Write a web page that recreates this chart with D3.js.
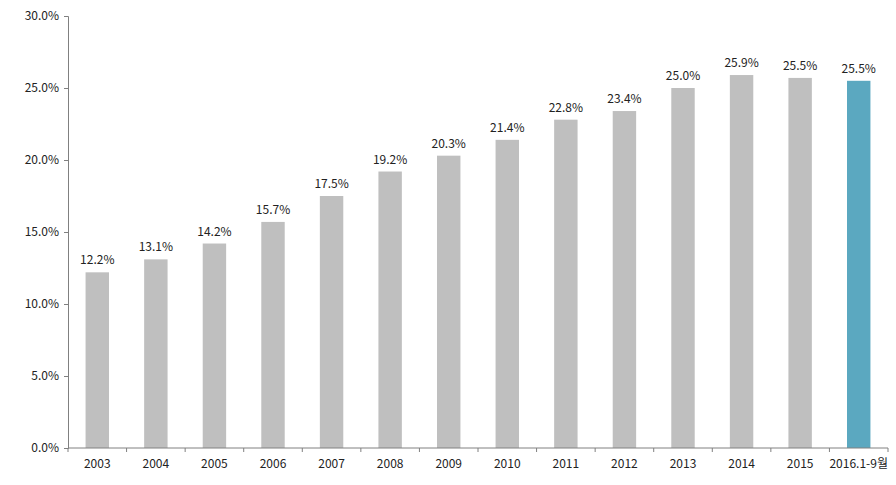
<!DOCTYPE html>
<html>
<head>
<meta charset="utf-8">
<script src="https://cdn.jsdelivr.net/npm/d3@7"></script>
<style>
  html, body { margin: 0; padding: 0; background: #fff; }
  svg { display: block; }
  text { font-family: "Noto Sans CJK KR", "Noto Sans", sans-serif; fill: #222; }
</style>
</head>
<body>
<svg id="chart" width="896" height="485"></svg>
<script>
const categories = ["2003","2004","2005","2006","2007","2008","2009","2010","2011","2012","2013","2014","2015","2016.1-9월"];
const values = [12.2, 13.1, 14.2, 15.7, 17.5, 19.2, 20.3, 21.4, 22.8, 23.4, 25.0, 25.9, 25.7, 25.5];
const valueLabels = ["12.2%","13.1%","14.2%","15.7%","17.5%","19.2%","20.3%","21.4%","22.8%","23.4%","25.0%","25.9%","25.5%","25.5%"];
const yTicks = [0, 5, 10, 15, 20, 25, 30];

const svg = d3.select("#chart");
const margin = { left: 68, right: 8, top: 16, bottom: 37 };
const W = 896, H = 485;

const x = d3.scaleBand().domain(categories).range([margin.left, W - margin.right]).paddingInner(0.6).paddingOuter(0.3);
const y = d3.scaleLinear().domain([0, 30]).range([H - margin.bottom, margin.top]);

// bars
svg.append("g").selectAll("rect").data(values).join("rect")
  .attr("x", (d, i) => x(categories[i]))
  .attr("width", x.bandwidth())
  .attr("y", d => y(d))
  .attr("height", d => y(0) - y(d))
  .attr("fill", (d, i) => i === values.length - 1 ? "#5BA8C0" : "#BFBFBF");

// value labels
svg.append("g").selectAll("text").data(values).join("text")
  .attr("x", (d, i) => x(categories[i]) + x.bandwidth() / 2)
  .attr("y", d => y(d) - 8)
  .attr("text-anchor", "middle")
  .attr("font-size", 12)
  .text((d, i) => valueLabels[i]);

// y axis
const yAxis = d3.axisLeft(y).tickValues(yTicks).tickSize(4).tickFormat(d => d3.format(".1f")(d) + "%");
const gy = svg.append("g").attr("transform", `translate(${margin.left},0)`).call(yAxis);
gy.select(".domain").attr("stroke", "#808080");
gy.selectAll(".tick line").attr("stroke", "#808080");
gy.selectAll(".tick text").attr("font-size", 12).attr("font-family", "'Noto Sans CJK KR', 'Noto Sans', sans-serif").attr("fill", "#222").attr("dx", -2);

// x axis (ticks at band boundaries)
const gx = svg.append("g").attr("transform", `translate(0,${y(0)})`);
gx.append("line").attr("x1", margin.left).attr("x2", W - margin.right).attr("stroke", "#808080");
const step = x.step();
const boundaries = categories.map((c, i) => x(c) - x.paddingInner() * step / 2 + 0);
boundaries.push(W - margin.right);
gx.selectAll(".tk").data(boundaries).join("line")
  .attr("x1", d => d).attr("x2", d => d).attr("y1", 0).attr("y2", 4)
  .attr("stroke", "#808080");
gx.selectAll(".lbl").data(categories).join("text")
  .attr("x", d => x(d) + x.bandwidth() / 2)
  .attr("y", 20)
  .attr("text-anchor", "middle")
  .attr("font-size", 12)
  .text(d => d);
</script>
</body>
</html>
